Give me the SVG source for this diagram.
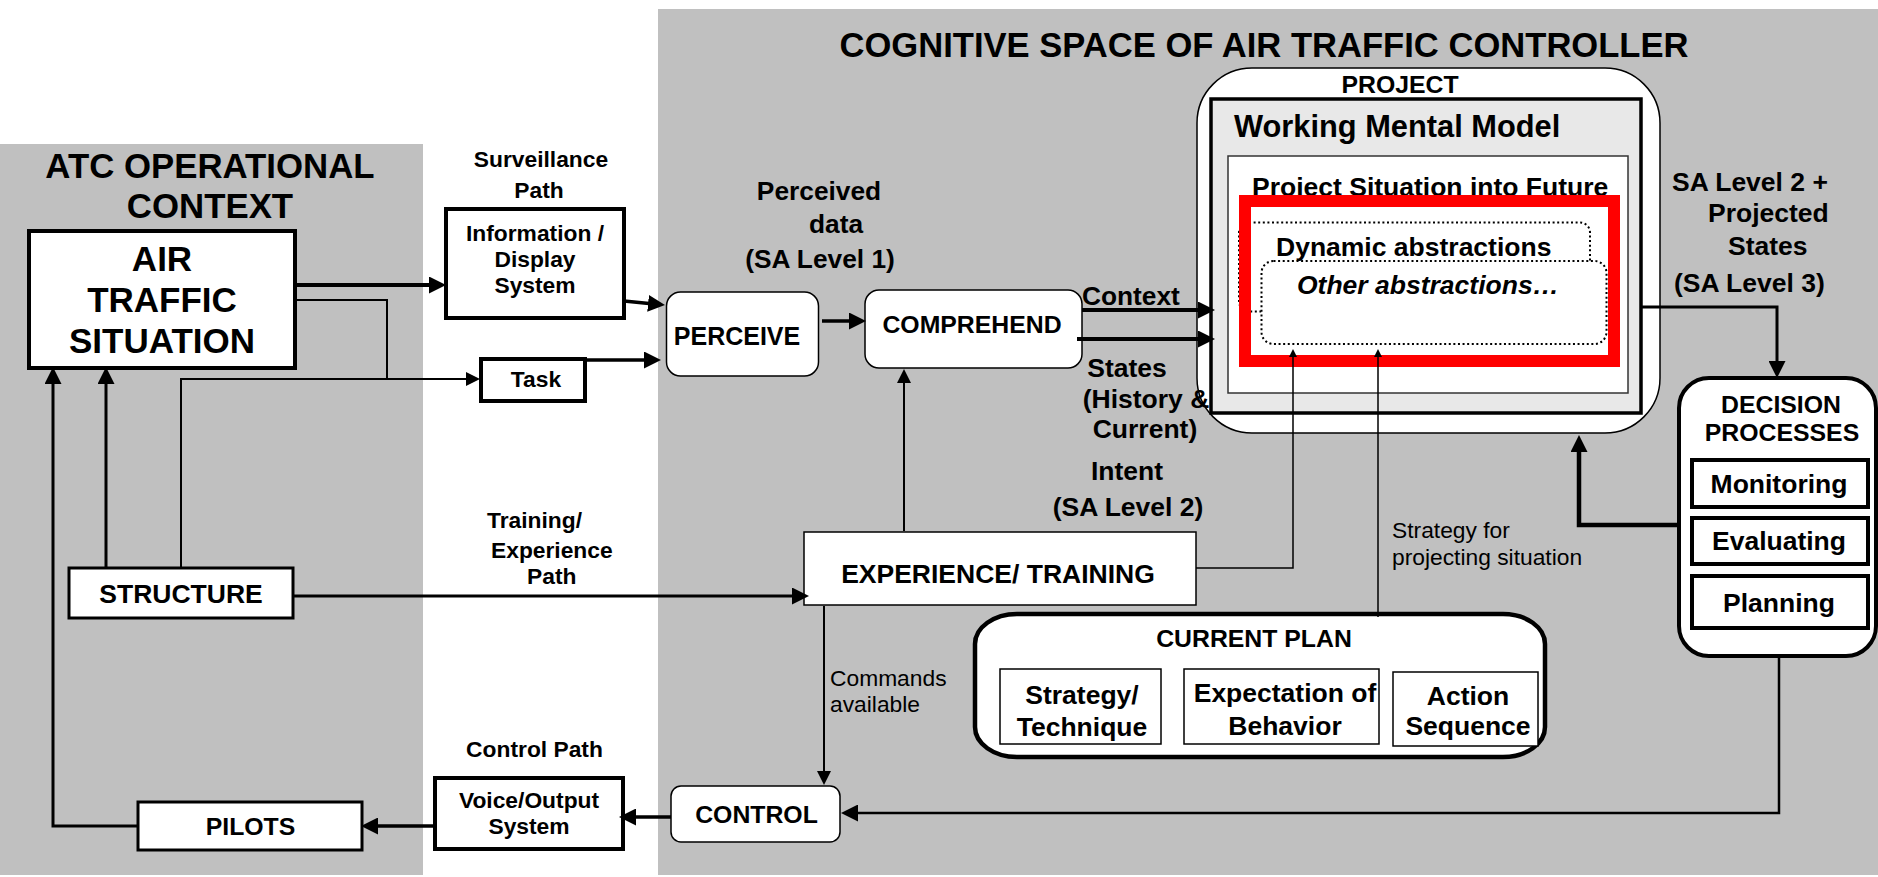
<svg xmlns="http://www.w3.org/2000/svg" width="1878" height="877" viewBox="0 0 1878 877">
  <style>
    text { font-family: "Liberation Sans", Arial, Helvetica, sans-serif; font-weight: bold; fill: #000; }
    .mid { text-anchor: middle; }
    .reg { font-weight: normal; }
    .panel { fill: #c0c0c0; }
    .box { fill: #fff; stroke: #000; }
    .b15 { stroke-width: 1.5; }
    .b3 { stroke-width: 3; }
    .b4 { stroke-width: 4; }
    .b45 { stroke-width: 4.5; }
    .dots { fill: #fff; stroke: #000; stroke-width: 2; stroke-dasharray: 2 2.6; }
    .ln { fill: none; stroke: #000; stroke-linejoin: miter; }
    .big { marker-end: url(#ab); }
    .sm { marker-end: url(#as); }
    .tiny { marker-end: url(#at); }
    .s22 { font-size: 22.8px; }
    .s245 { font-size: 24.8px; }
    .s265 { font-size: 26.5px; }
  </style>
  <defs>
    <marker id="ab" viewBox="0 0 17 17" refX="11" refY="8.5" markerWidth="17" markerHeight="17" markerUnits="userSpaceOnUse" orient="auto">
      <path d="M0,0L17,8.5L0,17z"/>
    </marker>
    <marker id="as" viewBox="0 0 14 14" refX="9" refY="7" markerWidth="14" markerHeight="14" markerUnits="userSpaceOnUse" orient="auto">
      <path d="M0,0L14,7L0,14z"/>
    </marker>
    <marker id="at" viewBox="0 0 8 8" refX="5" refY="4" markerWidth="8" markerHeight="8" markerUnits="userSpaceOnUse" orient="auto">
      <path d="M0,0L8,4L0,8z"/>
    </marker>
  </defs>

  <!-- backgrounds -->
  <rect x="0" y="0" width="1878" height="877" fill="#fff"/>
  <rect class="panel" x="0" y="144" width="423" height="731"/>
  <rect class="panel" x="658" y="9" width="1220" height="866"/>

  <!-- panel headings -->
  <g id="atc-context">
    <text class="mid" x="210" y="178" font-size="34.8">ATC OPERATIONAL</text>
    <text class="mid" x="210" y="218" font-size="34.8">CONTEXT</text>
  </g>
  <g id="cognitive-space">
    <text class="mid" x="1264" y="57" font-size="34.6">COGNITIVE SPACE OF AIR TRAFFIC CONTROLLER</text>
  </g>

  <!-- nodes -->
  <g id="air-traffic-situation">
    <rect class="box b4" x="29" y="231" width="266" height="137"/>
    <text class="mid" x="162" y="271" font-size="35">AIR</text>
    <text class="mid" x="162" y="312" font-size="35">TRAFFIC</text>
    <text class="mid" x="162" y="353" font-size="35">SITUATION</text>
  </g>

  <g id="structure">
    <rect class="box b3" x="69" y="568" width="224" height="50"/>
    <text class="mid s265" x="181" y="603">STRUCTURE</text>
  </g>

  <g id="pilots">
    <rect class="box b3" x="138" y="802" width="224" height="48"/>
    <text class="mid s245" x="250.5" y="835">PILOTS</text>
  </g>

  <g id="info-display">
    <rect class="box b4" x="446" y="209" width="178" height="109"/>
    <text class="mid s22" x="535" y="241">Information /</text>
    <text class="mid s22" x="535" y="267">Display</text>
    <text class="mid s22" x="535" y="293">System</text>
  </g>

  <g id="task">
    <rect class="box b4" x="481" y="359" width="104" height="42"/>
    <text class="mid s22" x="536" y="387">Task</text>
  </g>

  <g id="voice-output">
    <rect class="box b4" x="435" y="778" width="188" height="71"/>
    <text class="mid s22" x="529" y="808">Voice/Output</text>
    <text class="mid s22" x="529" y="834">System</text>
  </g>

  <g id="perceive">
    <rect class="box b15" x="666.5" y="292" width="152" height="84" rx="14"/>
    <text class="mid" x="737" y="345" font-size="25">PERCEIVE</text>
  </g>

  <g id="comprehend">
    <rect class="box b15" x="865" y="290" width="217" height="78" rx="14"/>
    <text class="mid s245" x="972" y="333">COMPREHEND</text>
  </g>

  <g id="project">
    <rect class="box b15" x="1197" y="68" width="463" height="365" rx="55"/>
    <text class="mid s245" x="1400" y="93">PROJECT</text>
    <rect x="1211" y="99" width="430" height="314" fill="#e8e8e8" stroke="#000" stroke-width="3.5"/>
    <text x="1234" y="137" font-size="30.8">Working Mental Model</text>
    <rect x="1228" y="156" width="400" height="237" fill="#fff" stroke="#333" stroke-width="1.5"/>
    <text class="s265" x="1252" y="196">Project Situation into Future</text>
    <rect class="dots" x="1239" y="222.5" width="351" height="89" rx="10"/>
    <text class="s265" x="1276" y="256">Dynamic abstractions</text>
    <rect class="dots" x="1261.5" y="261" width="345" height="83" rx="12"/>
    <text class="s265" x="1297" y="294" font-style="italic">Other abstractions…</text>
    <rect x="1245" y="201" width="369" height="160" fill="none" stroke="#ff0000" stroke-width="12"/>
  </g>

  <g id="decision-processes">
    <rect class="box b4" x="1679" y="378" width="197" height="278" rx="30"/>
    <text class="mid s245" x="1781" y="413">DECISION</text>
    <text class="mid s245" x="1782" y="441">PROCESSES</text>
    <rect class="box b4" x="1692" y="460" width="176" height="47"/>
    <text class="mid s265" x="1779" y="493">Monitoring</text>
    <rect class="box b4" x="1692" y="518" width="176" height="46"/>
    <text class="mid s265" x="1779" y="550">Evaluating</text>
    <rect class="box b4" x="1692" y="576" width="176" height="52"/>
    <text class="mid s265" x="1779" y="612">Planning</text>
  </g>

  <g id="experience-training">
    <rect class="box b15" x="804" y="532" width="392" height="73"/>
    <text class="mid s265" x="998" y="583">EXPERIENCE/ TRAINING</text>
  </g>

  <g id="current-plan">
    <rect class="box b45" x="975" y="614" width="570" height="143" rx="42" ry="30"/>
    <text class="mid s245" x="1254" y="647">CURRENT PLAN</text>
    <rect class="box b15" x="1000" y="669" width="161" height="75"/>
    <text class="mid s265" x="1082" y="704">Strategy/</text>
    <text class="mid s265" x="1082" y="736">Technique</text>
    <rect class="box b15" x="1184" y="669" width="195" height="75"/>
    <text class="mid s265" x="1285" y="702">Expectation of</text>
    <text class="mid s265" x="1285" y="735">Behavior</text>
    <rect class="box b15" x="1393" y="672" width="145" height="74"/>
    <text class="mid s265" x="1468" y="705">Action</text>
    <text class="mid s265" x="1468" y="735">Sequence</text>
  </g>

  <g id="control">
    <rect class="box b15" x="671" y="786" width="169" height="56" rx="10"/>
    <text class="mid s245" x="756.5" y="823">CONTROL</text>
  </g>

  <!-- connectors -->
  <g id="connectors">
    <path class="ln big" stroke-width="4" d="M295,285H440"/>
    <path class="ln sm" stroke-width="2" d="M295,300H387V379H475"/>
    <path class="ln" stroke-width="2" d="M181,568V379H387"/>
    <path class="ln big" stroke-width="3" d="M106,568V373"/>
    <path class="ln big" stroke-width="3" d="M138,826H53V373"/>
    <path class="ln big" stroke-width="3.5" d="M624,301L659,304.5"/>
    <path class="ln big" stroke-width="3.5" d="M585,360H655"/>
    <path class="ln big" stroke-width="3.5" d="M822,321H860"/>
    <path class="ln big" stroke-width="4" d="M1082,310H1209"/>
    <path class="ln big" stroke-width="4" d="M1077,339H1209"/>
    <path class="ln sm" stroke-width="2" d="M904,531V374"/>
    <path class="ln big" stroke-width="3" d="M293,596H803"/>
    <path class="ln sm" stroke-width="2" d="M824,606V780"/>
    <path class="ln tiny" stroke-width="1.5" d="M1196,568H1293V352"/>
    <path class="ln tiny" stroke-width="1.5" d="M1378,617V352"/>
    <path class="ln big" stroke-width="3" d="M1641,307H1777V372"/>
    <path class="ln big" stroke-width="4.5" d="M1678,525H1579V441"/>
    <path class="ln big" stroke-width="2.5" d="M1779,656V813H847"/>
    <path class="ln big" stroke-width="3.5" d="M671,817H625"/>
    <path class="ln big" stroke-width="3.5" d="M435,826H367"/>
  </g>

  <!-- connector labels -->
  <g id="labels">
    <text class="mid s22" x="541" y="167">Surveillance</text>
    <text class="mid s22" x="539" y="198">Path</text>
    <text class="mid" x="819" y="200" font-size="26.3">Perceived</text>
    <text class="mid" x="836" y="233" font-size="26.3">data</text>
    <text class="mid" x="820" y="268" font-size="26.3">(SA Level 1)</text>
    <text x="1082" y="305" font-size="26.3">Context</text>
    <text class="mid s265" x="1127" y="377">States</text>
    <text class="mid s265" x="1146" y="408">(History &amp;</text>
    <text class="mid s265" x="1145" y="438">Current)</text>
    <text class="mid s265" x="1127" y="480">Intent</text>
    <text class="mid s265" x="1128" y="516">(SA Level 2)</text>
    <text class="s265" x="1672" y="191">SA Level 2 +</text>
    <text class="s265" x="1708" y="222">Projected</text>
    <text class="s265" x="1728" y="255">States</text>
    <text class="s265" x="1674" y="292">(SA Level 3)</text>
    <text class="reg s22" x="1392" y="538">Strategy for</text>
    <text class="reg s22" x="1392" y="565">projecting situation</text>
    <text class="reg s22" x="830" y="686">Commands</text>
    <text class="reg s22" x="830" y="712">available</text>
    <text class="s22" x="487" y="528">Training/</text>
    <text class="s22" x="491" y="558">Experience</text>
    <text class="s22" x="527" y="584">Path</text>
    <text class="mid s22" x="534.5" y="757">Control Path</text>
  </g>
</svg>
